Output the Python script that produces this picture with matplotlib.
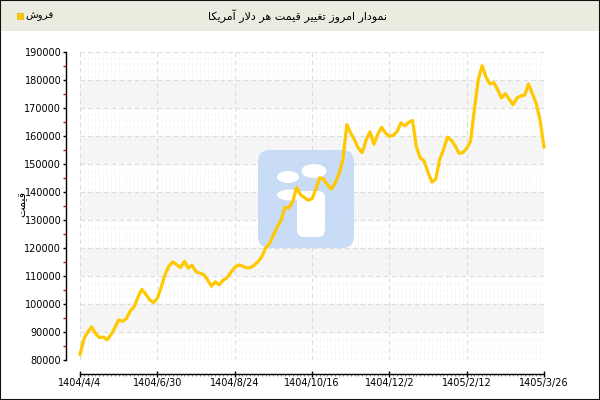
import matplotlib.pyplot as plt
from matplotlib.patches import Rectangle, FancyBboxPatch, Ellipse
from matplotlib.transforms import Affine2D
from matplotlib.ticker import MultipleLocator

# daily price of one US dollar (toman)
prices = [
    82000, 87500, 90000, 91800, 89500, 88000, 88200, 87200, 89000, 91500,
    94300, 93800, 94800, 97500, 99000, 102500, 105200, 103500, 101500, 100500,
    102000, 106000, 110500, 113500, 115000, 114000, 113000, 115200, 112800, 113800,
    111500, 111000, 110500, 108600, 106300, 107900, 106800, 108500, 109300, 111200,
    113000, 113900, 113500, 112900, 112900, 113800, 115000, 116800, 120000, 121500,
    124500, 127500, 129800, 134500, 134300, 136500, 141500, 139000, 138000, 137000,
    137500, 141000, 145000, 144500, 142500, 141000, 143200, 146500, 151500, 164000,
    161000, 158500, 155500, 154000, 158500, 161400, 157000, 160500, 163000, 161000,
    159800, 160200, 161500, 164600, 163500, 164800, 165500, 156000, 152100, 151000,
    147000, 143500, 144500, 151500, 155000, 159500, 158500, 156500, 153800, 154000,
    155500, 158000, 169500, 180000, 185000, 181000, 178500, 179000, 176500, 173500,
    175000, 173000, 171100, 173500, 174200, 174500, 178500, 175000, 171500, 165500,
    156000,
]
tick_pos = [0, 20, 40, 60, 80, 100, 120]
tick_labels = ['1404/4/4', '1404/6/30', '1404/8/24', '1404/10/16',
               '1404/12/2', '1405/2/12', '1405/3/26']

title = 'نمودار امروز تغییر قیمت هر دلار آمریکا'
series_name = 'فروش'
y_title = 'قیمت'

# matplotlib has no arabic shaping, so pick the joined glyph forms by hand
forms = {
    'ا': ('\ufe8d', '\ufe8e', None, None),
    'آ': ('\ufe81', '\ufe82', None, None),
    'د': ('\ufea9', '\ufeaa', None, None),
    'ر': ('\ufead', '\ufeae', None, None),
    'ز': ('\ufeaf', '\ufeb0', None, None),
    'و': ('\ufeed', '\ufeee', None, None),
    '\ufefb': ('\ufefb', '\ufefc', None, None),  # lam-alef
    'ت': ('\ufe95', '\ufe96', '\ufe97', '\ufe98'),
    'ش': ('\ufeb5', '\ufeb6', '\ufeb7', '\ufeb8'),
    'غ': ('\ufecd', '\ufece', '\ufecf', '\ufed0'),
    'ف': ('\ufed1', '\ufed2', '\ufed3', '\ufed4'),
    'ق': ('\ufed5', '\ufed6', '\ufed7', '\ufed8'),
    'ک': ('\ufed9', '\ufeda', '\ufedb', '\ufedc'),
    'ل': ('\ufedd', '\ufede', '\ufedf', '\ufee0'),
    'م': ('\ufee1', '\ufee2', '\ufee3', '\ufee4'),
    'ن': ('\ufee5', '\ufee6', '\ufee7', '\ufee8'),
    'ه': ('\ufee9', '\ufeea', '\ufeeb', '\ufeec'),
    'ی': ('\ufeef', '\ufef0', '\ufef3', '\ufef4'),
}


def shape(text):
    words = []
    for word in text.split(' '):
        chars = list(word.replace('لا', '\ufefb'))
        glyphs = []
        for i, c in enumerate(chars):
            f = forms[c]
            prev_j = i > 0 and forms[chars[i - 1]][2] is not None
            next_j = i < len(chars) - 1 and f[2] is not None
            if prev_j and next_j:
                glyphs.append(f[3])
            elif prev_j:
                glyphs.append(f[1])
            elif next_j:
                glyphs.append(f[2])
            else:
                glyphs.append(f[0])
        words.append(''.join(reversed(glyphs)))
    return ' '.join(reversed(words))


plt.rcParams['font.family'] = ['DejaVu Sans']
line_color = '#ffc800'

fig = plt.figure(figsize=(6, 4), dpi=100)
pix = Affine2D().scale(1 / 600, -1 / 400).translate(0, 1) + fig.transFigure

# header band + frame
fig.patches.append(Rectangle((0, 0), 600, 31, transform=pix, facecolor='#ecebdf',
                             edgecolor='none', zorder=0))
fig.patches.append(Rectangle((0, 0), 600, 400, transform=pix, fill=False,
                             edgecolor='#111111', lw=1.5, zorder=5))
fig.text(297 / 600, 1 - 16 / 400, shape(title), ha='center', va='center', fontsize=8)
fig.patches.append(Rectangle((17, 13), 6, 6, transform=pix, facecolor=line_color,
                             edgecolor='#e6b000', lw=0.5))
fig.text(25 / 600, 1 - 16 / 400, shape(series_name), ha='left', va='center', fontsize=7.5)
fig.text(22 / 600, 1 - 204 / 400, shape(y_title), rotation=90, ha='center',
         va='center', fontsize=8)

ax = fig.add_axes([80 / 600, 40 / 400, 464 / 600, 308.3 / 400])
ax.set_axisbelow(True)

# alternating light bands
for lo in range(90000, 180000, 20000):
    ax.axhspan(lo, lo + 10000, color='#f6f6f6', lw=0, zorder=0.1)

# watermark logo
ax.add_patch(FancyBboxPatch((258, 150), 96, 98, boxstyle='round,pad=0,rounding_size=12',
                            transform=pix, facecolor='#c5d9f6', edgecolor='none',
                            alpha=0.92, zorder=0.6, clip_on=False))
for cx, cy, w, h in [(288, 177, 22, 12), (314, 171, 25, 14), (290, 195, 26, 11)]:
    ax.add_patch(Ellipse((cx, cy), w, h, transform=pix, facecolor='white',
                         edgecolor='none', zorder=0.65, clip_on=False))
ax.add_patch(FancyBboxPatch((297, 191), 28, 46, boxstyle='round,pad=0,rounding_size=7',
                            transform=pix, facecolor='white', edgecolor='none',
                            zorder=0.65, clip_on=False))

ax.plot(range(len(prices)), prices, color=line_color, lw=2.3,
        solid_joinstyle='round', zorder=3, clip_on=False)

ax.set_xlim(0, len(prices) - 1)
ax.set_ylim(80000, 190000)

for s in ['top', 'right']:
    ax.spines[s].set_visible(False)
for s in ['left', 'bottom']:
    ax.spines[s].set_position(('outward', 10))
    ax.spines[s].set_linewidth(1)

ax.set_yticks(range(80000, 190001, 10000))
ax.yaxis.set_minor_locator(MultipleLocator(5000))
ax.set_xticks(tick_pos)
ax.set_xticklabels(tick_labels)
ax.xaxis.set_minor_locator(MultipleLocator(1))

ax.tick_params(axis='y', which='major', length=2.5, width=1, pad=1, labelsize=7)
ax.tick_params(axis='y', which='minor', length=2.5, width=1, color='red')
ax.tick_params(axis='x', which='major', direction='inout', length=4, width=1, pad=1,
               labelsize=7)
ax.tick_params(axis='x', which='minor', length=1.5, width=0.5, color='#555555')

ax.grid(which='major', color='#dddddd', linestyle=(0, (4, 3)), lw=0.8)
ax.grid(which='minor', axis='x', color='#f1f1f1', linestyle=(0, (5, 4)), lw=0.5)

fig.savefig('out.png', dpi=100)
